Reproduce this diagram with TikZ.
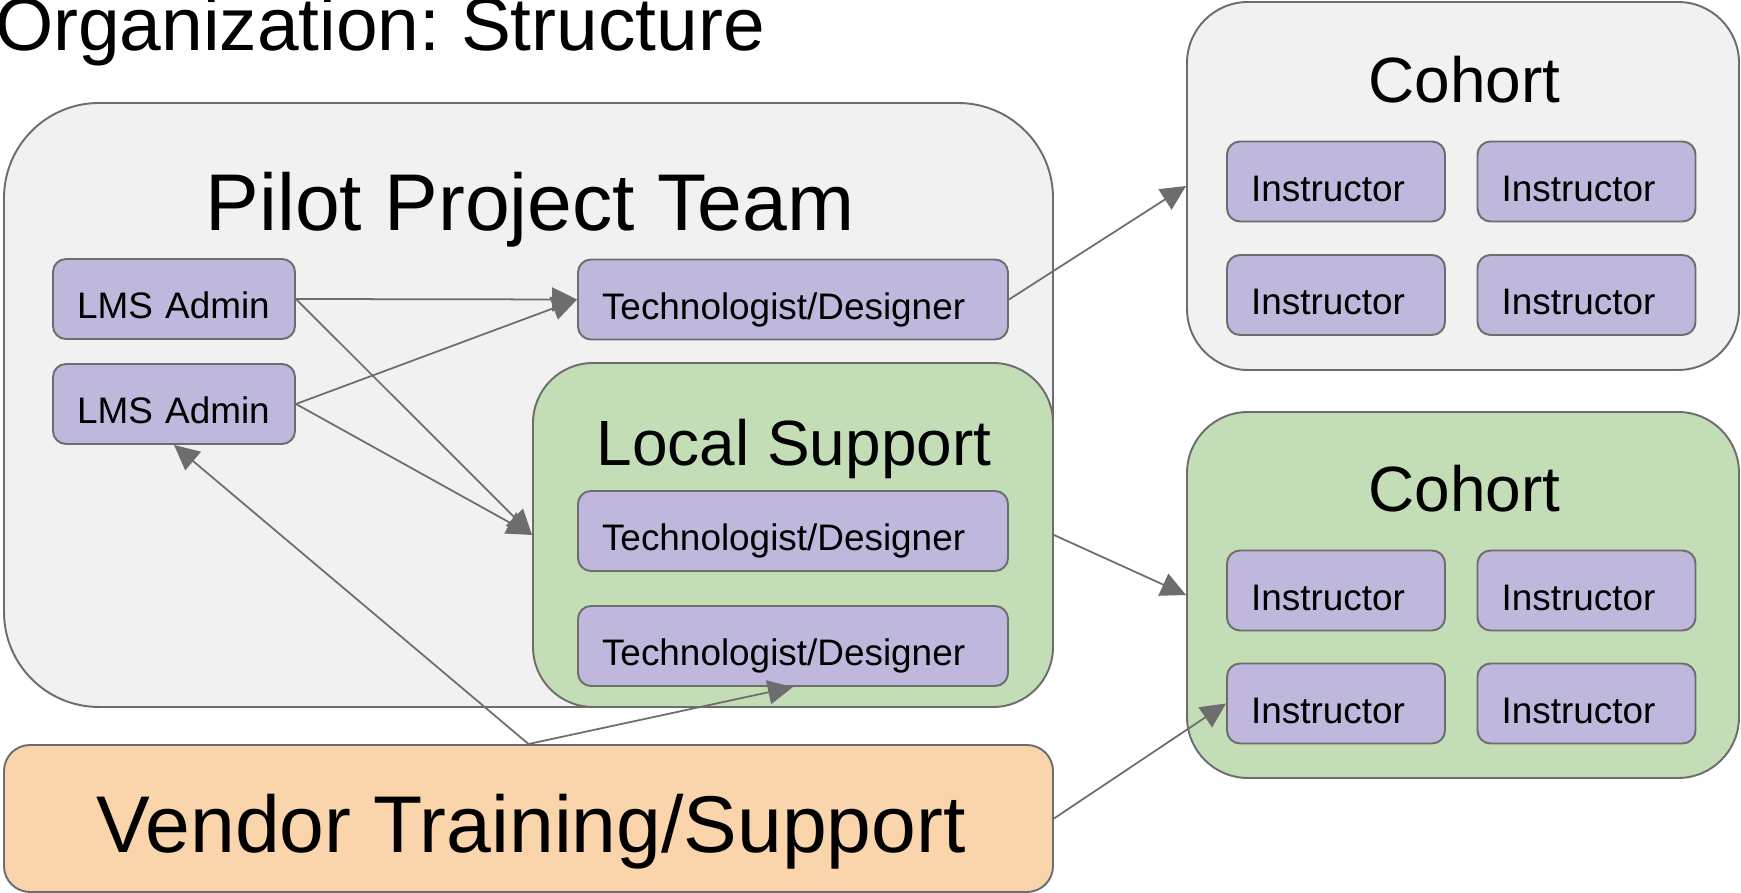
\documentclass[tikz,border=0pt]{standalone}
\usepackage{fontspec}
\setmainfont{Liberation Sans}
\usetikzlibrary{arrows.meta}
\definecolor{lineGray}{HTML}{6D6D6D}
\definecolor{grayFill}{HTML}{F1F1F1}
\definecolor{greenFill}{HTML}{C3DDB6}
\definecolor{purpleFill}{HTML}{BFB8DC}
\definecolor{orangeFill}{HTML}{FAD4AA}
\frenchspacing
\tikzset{
  container/.style={draw=lineGray, line width=0.55pt, rectangle, inner sep=0pt},
  smallbox/.style={draw=lineGray, line width=0.55pt, rectangle, fill=purpleFill,
    rounded corners=0.13cm, minimum height=0.8cm, inner xsep=0.24cm, inner ysep=0pt,
    text height=0.4cm, text depth=0pt, align=left,
    font=\fontsize{10.5}{12}\selectfont},
  bigtext/.style={inner sep=0pt, anchor=base, font=\fontsize{22.9}{27}\selectfont},
  midtext/.style={inner sep=0pt, anchor=base, font=\fontsize{18.2}{22}\selectfont},
  conn/.style={draw=lineGray, line width=0.5pt, -{Triangle[length=0.25cm, width=0.24cm]}, fill=lineGray},
}
\begin{document}
\begin{tikzpicture}
\useasboundingbox (0,0) rectangle (17.41,-8.93);
% title
\node[inner sep=0pt, anchor=base west, font=\fontsize{21.3}{25}\selectfont] (title) at (-0.056,-0.505) {Organization: Structure};
% pilot project team
\node[container, fill=grayFill, rounded corners=0.95cm, minimum width=10.49cm, minimum height=6.04cm] (pilot) at (5.285,-4.05) {};
\node[bigtext] (pilotlabel) at (5.30,-2.31) {Pilot Project Team};
\node[smallbox, minimum width=2.42cm, text width=1.94cm] (lms1) at (1.74,-2.99) {LMS Admin};
\node[smallbox, minimum width=2.42cm, text width=1.94cm] (lms2) at (1.74,-4.04) {LMS Admin};
\node[smallbox, minimum width=4.30cm, text width=3.82cm] (td1) at (7.93,-2.995) {Technologist/Designer};
% local support
\node[container, fill=greenFill, rounded corners=0.60cm, minimum width=5.20cm, minimum height=3.44cm] (local) at (7.93,-5.35) {};
\node[midtext] (locallabel) at (7.94,-4.655) {Local Support};
\node[smallbox, minimum width=4.30cm, text width=3.82cm] (td2) at (7.93,-5.31) {Technologist/Designer};
\node[smallbox, minimum width=4.30cm, text width=3.82cm] (td3) at (7.93,-6.46) {Technologist/Designer};
% vendor
\node[container, fill=orangeFill, rounded corners=0.26cm, minimum width=10.49cm, minimum height=1.47cm] (vendor) at (5.285,-8.185) {};
\node[bigtext] (vendorlabel) at (5.31,-8.53) {Vendor Training/Support};
% cohort 1
\node[container, fill=grayFill, rounded corners=0.61cm, minimum width=5.52cm, minimum height=3.68cm] (cohortA) at (14.63,-1.86) {};
\node[midtext] (cohortAlabel) at (14.645,-1.03) {Cohort};
\node[smallbox, minimum width=2.18cm, text width=1.70cm] (ia1) at (13.36,-1.815) {Instructor};
\node[smallbox, minimum width=2.18cm, text width=1.70cm] (ia2) at (15.865,-1.815) {Instructor};
\node[smallbox, minimum width=2.18cm, text width=1.70cm] (ia3) at (13.36,-2.95) {Instructor};
\node[smallbox, minimum width=2.18cm, text width=1.70cm] (ia4) at (15.865,-2.95) {Instructor};
% cohort 2
\node[container, fill=greenFill, rounded corners=0.61cm, minimum width=5.52cm, minimum height=3.66cm] (cohortB) at (14.63,-5.95) {};
\node[midtext] (cohortBlabel) at (14.645,-5.12) {Cohort};
\node[smallbox, minimum width=2.18cm, text width=1.70cm] (ib1) at (13.36,-5.905) {Instructor};
\node[smallbox, minimum width=2.18cm, text width=1.70cm] (ib2) at (15.865,-5.905) {Instructor};
\node[smallbox, minimum width=2.18cm, text width=1.70cm] (ib3) at (13.36,-7.035) {Instructor};
\node[smallbox, minimum width=2.18cm, text width=1.70cm] (ib4) at (15.865,-7.035) {Instructor};
% connectors
\draw[conn] (lms1.east) -- (td1.west);
\draw[conn] (lms1.east) -- (local.west);
\draw[conn] (lms2.east) -- (td1.west);
\draw[conn] (lms2.east) -- (local.west);
\draw[conn] (td1.east) -- (cohortA.west);
\draw[conn] (local.east) -- (cohortB.west);
\draw[conn] (vendor.north) -- (lms2.south);
\draw[conn] (vendor.north) -- (td3.south);
\draw[conn] (vendor.east) -- (ib3.west);
\end{tikzpicture}
\end{document}
